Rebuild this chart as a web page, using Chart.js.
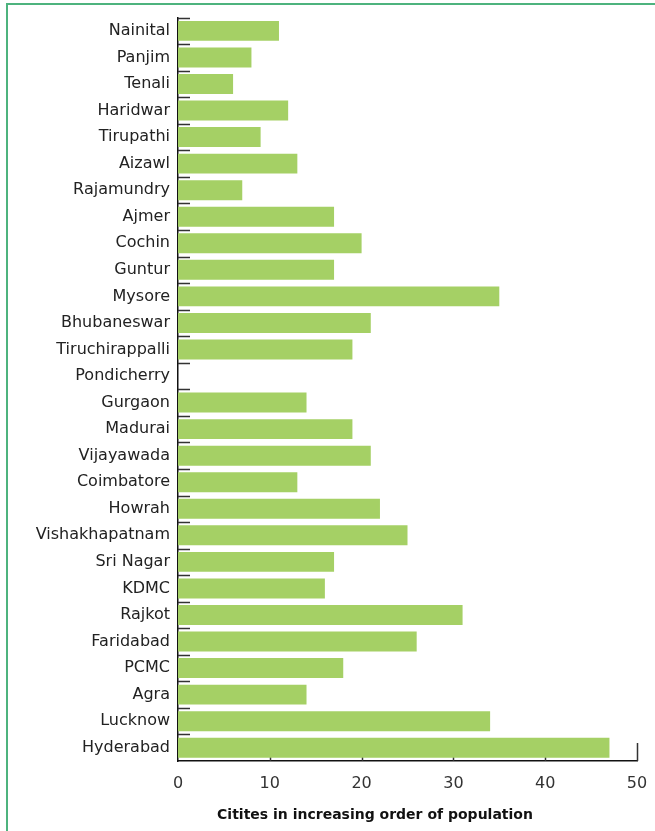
<!DOCTYPE html>
<html>
<head>
<meta charset="utf-8">
<script src="https://cdn.jsdelivr.net/npm/chart.js@4.4.1/dist/chart.umd.min.js"></script>
<style>
  html, body { margin: 0; padding: 0; background: #fff; }
  #frame { position: absolute; left: 6px; top: 3px; width: 649px; height: 828px;
           border-top: 2px solid #4db37e; border-left: 2px solid #4db37e; }
  canvas { position: absolute; left: 0; top: 0; }
</style>
</head>
<body>
<div id="frame"></div>
<canvas id="cityChart" width="655" height="831"></canvas>
<script>
const cities = ['Nainital', 'Panjim', 'Tenali', 'Haridwar', 'Tirupathi', 'Aizawl', 'Rajamundry',
    'Ajmer', 'Cochin', 'Guntur', 'Mysore', 'Bhubaneswar', 'Tiruchirappalli', 'Pondicherry',
    'Gurgaon', 'Madurai', 'Vijayawada', 'Coimbatore', 'Howrah', 'Vishakhapatnam', 'Sri Nagar',
    'KDMC', 'Rajkot', 'Faridabad', 'PCMC', 'Agra', 'Lucknow', 'Hyderabad'];
const values = [11, 8, 6, 12, 9, 13, 7, 17, 20, 17, 35, 21, 19, null,
    14, 19, 21, 13, 22, 25, 17, 16, 31, 26, 18, 14, 34, 47];
const xTicks = [0, 10, 20, 30, 40, 50];
const axisTitle = 'Citites in increasing order of population';

const FONT = '"DejaVu Sans", sans-serif';

// small inward tick marks, like the original
const innerTicks = {
    id: 'innerTicks',
    beforeDatasetsDraw(chart) {
        const ctx = chart.ctx;
        const x = chart.scales.x, y = chart.scales.y;
        const band = y.getPixelForValue(1) - y.getPixelForValue(0);
        ctx.save();
        ctx.strokeStyle = '#333';
        ctx.lineWidth = 1.5;
        ctx.beginPath();
        for (let i = 0; i < cities.length; i++) {
            const py = Math.round(y.getPixelForValue(i) - band / 2) + 0.5;
            ctx.moveTo(x.left, py);
            ctx.lineTo(x.left + 12, py);
        }
        xTicks.forEach(v => {
            if (v === 0) return;
            const px = Math.round(x.getPixelForValue(v)) + 0.5;
            ctx.moveTo(px, x.top);
            ctx.lineTo(px, x.top - (v === 50 ? 18 : 5));
        });
        ctx.stroke();
        ctx.restore();
    },
    afterDraw(chart) {
        const ctx = chart.ctx;
        ctx.save();
        ctx.font = 'bold 14px ' + FONT;
        ctx.fillStyle = '#111';
        ctx.textAlign = 'center';
        ctx.textBaseline = 'middle';
        ctx.fillText(axisTitle, 375, 815);
        ctx.restore();
    }
};

new Chart(document.getElementById('cityChart'), {
    type: 'bar',
    data: {
        labels: cities,
        datasets: [{
            data: values,
            backgroundColor: '#a5d065',
            barPercentage: 0.8,
            categoryPercentage: 0.94
        }]
    },
    options: {
        indexAxis: 'y',
        responsive: false,
        animation: false,
        layout: { padding: { top: 15, right: 18, left: 0, bottom: 0 } },
        plugins: { legend: { display: false }, tooltip: { enabled: false } },
        scales: {
            x: {
                min: 0, max: 50,
                afterBuildTicks: s => { s.ticks = xTicks.map(v => ({ value: v })); },
                afterFit: s => { s.height = 70; s.paddingRight = 0; s.paddingLeft = 0; },
                grid: { display: false, drawTicks: false },
                border: { color: '#111', width: 1.5 },
                ticks: { color: '#333', font: { family: FONT, size: 16 }, padding: 13 }
            },
            y: {
                afterFit: s => { s.width = 178; },
                grid: { display: false, drawTicks: false },
                border: { color: '#111', width: 1.5 },
                ticks: { color: '#222', font: { family: FONT, size: 16 }, padding: 8, autoSkip: false }
            }
        }
    },
    plugins: [innerTicks]
});
</script>
</body>
</html>
